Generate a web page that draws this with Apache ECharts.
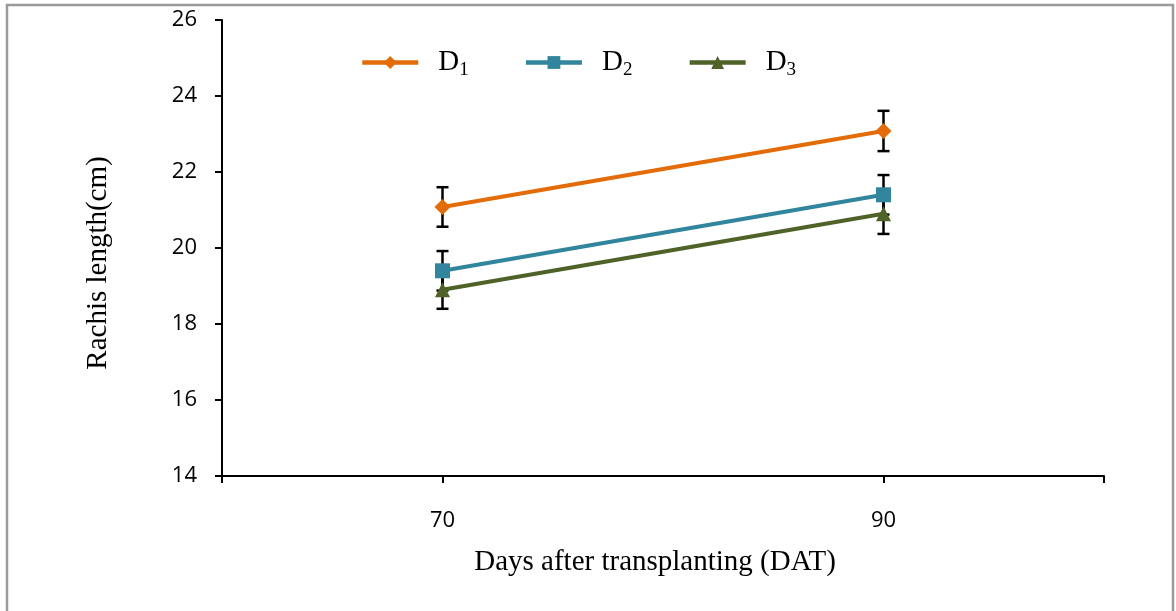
<!DOCTYPE html>
<html>
<head>
<meta charset="utf-8">
<script src="https://cdn.jsdelivr.net/npm/echarts@6/dist/echarts.min.js"></script>
<style>
html,body{margin:0;padding:0;background:#fff;}
#c{width:1176px;height:611px;}
</style>
</head>
<body>
<div id="c"></div>
<script>
const days = [70, 90];
const d1 = [21.08, 23.08];
const d2 = [19.4, 21.4];
const d3 = [18.9, 20.9];
const d1Err = [0.52, 0.53];
const d2Err = [0.52, 0.52];
const d3Err = [0.5, 0.53];
const yTicks = [14, 16, 18, 20, 22, 24, 26];

const seriesDefs = [
  {name: 'D1', vals: d1, err: d1Err, color: '#E36C09', symbol: 'diamond', size: 16},
  {name: 'D2', vals: d2, err: d2Err, color: '#31859C', symbol: 'rect', size: 15},
  {name: 'D3', vals: d3, err: d3Err, color: '#4F6228', symbol: 'triangle', size: 15}
];

const series = [];
seriesDefs.forEach(function (s) {
  series.push({
    type: 'custom',
    silent: true,
    z: 1,
    data: days.map(function (d, i) { return [d, s.vals[i] - s.err[i], s.vals[i] + s.err[i]]; }),
    renderItem: function (params, api) {
      const lo = api.coord([api.value(0), api.value(1)]);
      const hi = api.coord([api.value(0), api.value(2)]);
      const w = 6;
      const st = {stroke: '#000', lineWidth: 2.5};
      return {type: 'group', children: [
        {type: 'line', shape: {x1: lo[0], y1: lo[1], x2: hi[0], y2: hi[1]}, style: st},
        {type: 'line', shape: {x1: lo[0] - w, y1: lo[1], x2: lo[0] + w, y2: lo[1]}, style: st},
        {type: 'line', shape: {x1: hi[0] - w, y1: hi[1], x2: hi[0] + w, y2: hi[1]}, style: st}
      ]};
    }
  });
  series.push({
    type: 'line',
    name: s.name,
    z: 3,
    data: days.map(function (d, i) { return [d, s.vals[i]]; }),
    symbol: s.symbol,
    symbolSize: s.size,
    showSymbol: true,
    lineStyle: {color: s.color, width: 4},
    itemStyle: {color: s.color},
    emphasis: {disabled: true}
  });
});

const chart = echarts.init(document.getElementById('c'), null, {renderer: 'canvas'});
chart.setOption({
  animation: false,
  backgroundColor: '#fff',
  grid: {left: 222, right: 72, top: 20, bottom: 135},
  legend: {
    data: seriesDefs.map(function (s) { return s.name; }),
    left: 355,
    top: 43,
    itemWidth: 56,
    itemHeight: 16,
    itemGap: 55,
    lineStyle: {width: 4.5},
    formatter: function (n) { return 'D{s|' + n.slice(1) + '}'; },
    textStyle: {
      fontFamily: 'Liberation Serif',
      fontSize: 29,
      color: '#000',
      padding: [0, 0, 0, 15],
      rich: {s: {fontFamily: 'Liberation Serif', fontSize: 19, color: '#000', verticalAlign: 'bottom', padding: [16, 0, 0, 0]}}
    }
  },
  xAxis: {
    type: 'value',
    min: 60, max: 100, interval: 10,
    name: 'Days after transplanting (DAT)',
    nameLocation: 'middle',
    nameGap: 72,
    nameTextStyle: {fontFamily: 'Liberation Serif', fontSize: 29, color: '#000', padding: [0, 16, 0, 0]},
    axisLine: {show: true, lineStyle: {color: '#000', width: 2}},
    axisTick: {show: true, length: 7, lineStyle: {color: '#000', width: 2}, customValues: [60, 70, 90, 100]},
    axisLabel: {customValues: days, margin: 34, fontFamily: 'Open Sans', fontSize: 22, color: '#000'},
    splitLine: {show: false}
  },
  yAxis: {
    type: 'value',
    min: 14, max: 26, interval: 2,
    name: 'Rachis length(cm)',
    nameLocation: 'middle',
    nameGap: 109,
    nameRotate: 90,
    nameTextStyle: {fontFamily: 'Liberation Serif', fontSize: 29, color: '#000', padding: [0, 30, 0, 0]},
    axisLine: {show: true, lineStyle: {color: '#000', width: 2}},
    axisTick: {show: true, length: 7, lineStyle: {color: '#000', width: 2}, customValues: yTicks},
    axisLabel: {customValues: yTicks, margin: 25, fontFamily: 'Open Sans', fontSize: 22, color: '#000'},
    splitLine: {show: false}
  },
  graphic: [
    {type: 'rect', silent: true, z: 0, shape: {x: 7, y: 5, width: 1166, height: 620},
     style: {fill: 'none', stroke: '#9a9a9a', lineWidth: 2.5}}
  ],
  series: series
});
</script>
</body>
</html>
